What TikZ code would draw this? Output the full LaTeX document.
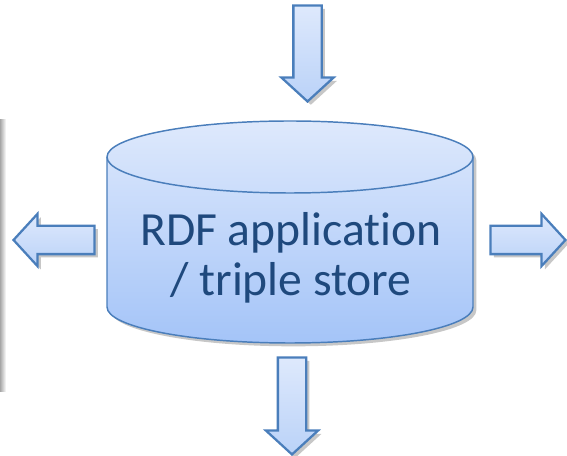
\documentclass[tikz,border=0pt]{standalone}
\usepackage{fontspec}
\setmainfont{Carlito}[Ligatures=NoCommon]
\usetikzlibrary{shapes.arrows,shadows}
\definecolor{edgeblue}{RGB}{74,126,187}
\definecolor{paleblue}{RGB}{222,233,252}
\definecolor{deepblue}{RGB}{164,196,248}
\definecolor{arrowblue}{RGB}{186,210,248}
\definecolor{textblue}{RGB}{31,73,125}
\tikzstyle{softshadow}=[
	drop shadow={shadow xshift=2.5pt,shadow yshift=-2.5pt,opacity=0.22,fill=black}]
\tikzstyle{store}=[
	draw=edgeblue,
	line width=1.1pt,
	top color=paleblue,
	bottom color=deepblue]
\tikzstyle{storetext}=[
	align=center,
	text=textblue,
	font=\fontsize{35.7}{37.5}\selectfont]
\tikzstyle{blockarrow}=[
	single arrow,
	draw=edgeblue,
	line width=1.7pt,
	top color=paleblue,
	bottom color=arrowblue,
	inner sep=0pt,
	inner ysep=9.75pt,
	single arrow head extend=9pt,
	single arrow tip angle=95,
	anchor=tip,
	softshadow]

\begin{document}
\begin{tikzpicture}[x=0.75pt,y=0.75pt]
	\useasboundingbox (0,0) rectangle (567,456);
	% shadow of the box left of the frame
	\shade[left color=black!35,right color=white] (0,64) rectangle (6,336);
	% triple store
	\path[store,softshadow] (107,299) -- (107,149)
		arc[start angle=180,end angle=360,x radius=183,y radius=36]
		-- (473,299)
		arc[start angle=0,end angle=180,x radius=183,y radius=36] -- cycle;
	\draw[draw=edgeblue,line width=1.1pt] (107,299)
		arc[start angle=180,end angle=360,x radius=183,y radius=36];
	\node[storetext] (store) at (291,198) {RDF application\\/ triple store};
	% arrows in and out
	\node[blockarrow,rotate=-90,minimum height=72pt] (input) at (307.5,353) {};
	\node[blockarrow,rotate=-90,minimum height=72.75pt] (output) at (292,0) {};
	\node[blockarrow,rotate=180,minimum height=60.75pt] (query) at (12,216) {};
	\node[blockarrow,minimum height=56.25pt] (export) at (567,216) {};
\end{tikzpicture}
\end{document}
